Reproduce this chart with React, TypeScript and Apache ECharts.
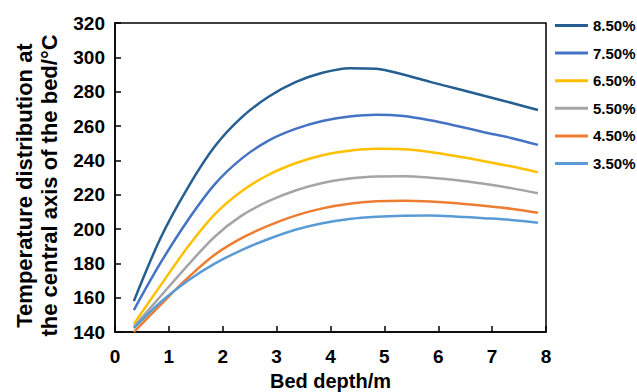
import React, { useEffect, useRef } from "react";
import * as echarts from "echarts";

const depth = [0.35, 0.85, 1.35, 1.85, 2.35, 2.85, 3.35, 3.85, 4.35, 4.85, 5.35, 5.85, 6.35, 6.85, 7.35, 7.85];
const s85 = [158, 195, 224, 248, 265, 277, 285.5, 291, 293.7, 293.4, 290, 285.7, 281.7, 277.6, 273.5, 269.3];
const s75 = [152.8, 180.5, 205, 226, 241, 251.5, 258.3, 262.9, 265.5, 266.5, 265.8, 263.3, 260, 256.4, 253, 249];
const s65 = [144.7, 167.3, 189.5, 208.5, 222, 231.6, 238.3, 243, 245.6, 246.7, 246.5, 244.9, 242.4, 239.5, 236.5, 233];
const s55 = [143, 161, 178.8, 195.5, 207.8, 216.2, 222.4, 226.8, 229.4, 230.6, 230.7, 229.9, 228.4, 226.3, 223.8, 220.8];
const s45 = [140, 156, 171.5, 185, 194.7, 202, 207.8, 212, 214.7, 216.1, 216.4, 216, 215, 213.5, 211.8, 209.5];
const s35 = [142.3, 157.5, 169.8, 179.8, 187.7, 194.2, 199.6, 203.4, 205.8, 207.1, 207.7, 207.8, 207.2, 206.3, 205.3, 203.7];

const seriesNames = ["8.50%", "7.50%", "6.50%", "5.50%", "4.50%", "3.50%"];
const seriesData = [s85, s75, s65, s55, s45, s35];
const colors = ["#255E91", "#4472C4", "#FFC000", "#A5A5A5", "#ED7D31", "#5B9BD5"];
const xTicks = [0, 1, 2, 3, 4, 5, 6, 7, 8];
const yTicks = [140, 160, 180, 200, 220, 240, 260, 280, 300, 320];

const FONT = "'Liberation Sans', Arial, sans-serif";

export default function App() {
  const ref = useRef<HTMLDivElement>(null);
  useEffect(() => {
    if (!ref.current) return;
    const chart = echarts.init(ref.current, undefined, { renderer: "svg" });
    chart.setOption({
      animation: false,
      textStyle: { fontFamily: FONT },
      grid: {
        left: 115,
        right: 91,
        top: 23,
        bottom: 60,
        show: true,
        borderColor: "#000",
        borderWidth: 1.5,
        outerBoundsMode: "none",
        containLabel: false,
      },
      legend: {
        orient: "vertical",
        left: 550,
        top: 13,
        itemWidth: 33,
        itemHeight: 3,
        itemGap: 12.6,
        icon: "rect",
        data: seriesNames,
        textStyle: { fontSize: 15, fontWeight: "bold", color: "#000", fontFamily: FONT },
      },
      xAxis: {
        type: "value",
        min: xTicks[0],
        max: xTicks[xTicks.length - 1],
        interval: 1,
        name: "Bed depth/m",
        nameLocation: "middle",
        nameGap: 39,
        nameTextStyle: { fontSize: 20, fontWeight: "bold", color: "#000", fontFamily: FONT },
        axisLine: { show: true, lineStyle: { color: "#000", width: 1.5 } },
        axisTick: { show: true, inside: true, length: 6, lineStyle: { color: "#000", width: 1.5 } },
        axisLabel: { fontSize: 19, fontWeight: "bold", color: "#000", margin: 15, fontFamily: FONT },
        splitLine: { show: false },
      },
      yAxis: {
        type: "value",
        min: yTicks[0],
        max: yTicks[yTicks.length - 1],
        interval: 20,
        name: "Temperature distribution at\nthe central axis of the bed/°C",
        nameLocation: "middle",
        nameGap: 51,
        nameTextStyle: {
          fontSize: 22,
          fontWeight: "bold",
          color: "#000",
          lineHeight: 25,
          padding: [0, 16, 0, 0],
          fontFamily: FONT,
        },
        axisLine: { show: true, lineStyle: { color: "#000", width: 1.5 } },
        axisTick: { show: true, inside: true, length: 6, lineStyle: { color: "#000", width: 1.5 } },
        axisLabel: { fontSize: 19, fontWeight: "bold", color: "#000", margin: 10, fontFamily: FONT },
        splitLine: { show: false },
      },
      series: seriesNames.map((name, i) => ({
        name,
        type: "line",
        smooth: 0.33,
        showSymbol: false,
        symbol: "none",
        data: depth.map((d, j) => [d, seriesData[i][j]]),
        lineStyle: { color: colors[i], width: 2.5 },
        itemStyle: { color: colors[i] },
      })),
    });
    return () => chart.dispose();
  }, []);
  return <div ref={ref} style={{ width: 637, height: 392, position: "absolute", left: 0, top: 0 }} />;
}
